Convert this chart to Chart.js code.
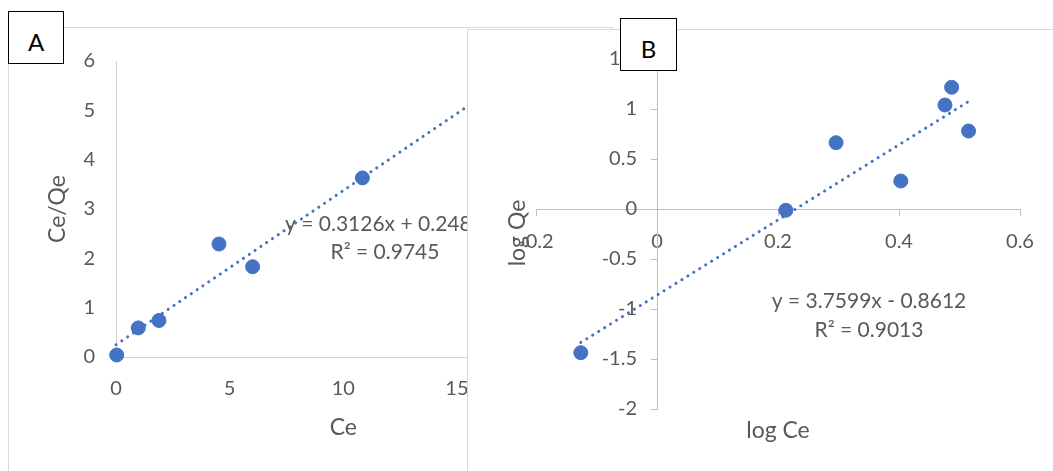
<!DOCTYPE html>
<html>
<head>
<meta charset="utf-8">
<script src="https://cdn.jsdelivr.net/npm/chart.js@4.4.1/dist/chart.umd.min.js"></script>
<style>
  html, body { margin: 0; padding: 0; background: #fff; overflow: hidden; width: 1053px; height: 471px; }
  .panel { position: absolute; box-sizing: border-box; border: 1px solid #d9d9d9; background: #fff; }
  #panelA { left: 8px; top: 27px; width: 605px; height: 470px; }
  #panelB { left: 467px; top: 29px; width: 600px; height: 470px; }
  .panel canvas { position: absolute; left: 0; top: 0; }
  .tag { position: absolute; box-sizing: border-box; border: 1px solid #000; background: #fff;
         font-family: Lato, sans-serif; font-size: 24px; color: #000; text-align: center; }
  #tagA { left: 8px; top: 11px; width: 56px; height: 53px; line-height: 53px; padding-top: 3px; }
  #tagB { left: 620px; top: 18px; width: 57px; height: 53px; line-height: 53px; padding-top: 3px; }
</style>
</head>
<body>
<div class="panel" id="panelA"><canvas id="chartA" width="603" height="443" style="width:603px;height:443px"></canvas></div>
<div class="tag" id="tagA">A</div>
<div class="panel" id="panelB"><canvas id="chartB" width="585" height="441" style="width:585px;height:441px"></canvas></div>
<div class="tag" id="tagB">B</div>

<script>
// Panel A: linear form, Ce/Qe against Ce
const ceA = [0.03, 0.98, 1.89, 4.53, 6.01, 10.84];
const ceQeA = [0.04, 0.59, 0.74, 2.29, 1.83, 3.63];
const fitA = { slope: 0.3126, intercept: 0.248, r2: '0.9745' };
const fitRangeA = [0, 17];
const xTicksA = [0, 5, 10, 15, 20];
const yTicksA = [0, 1, 2, 3, 4, 5, 6];

// Panel B: log form, log Qe against log Ce
const logCeB = [-0.126, 0.213, 0.296, 0.403, 0.476, 0.487, 0.515];
const logQeB = [-1.437, -0.013, 0.663, 0.28, 1.04, 1.217, 0.78];
const fitB = { slope: 3.7599, intercept: -0.8612, r2: '0.9013' };
const xTicksB = [-0.2, 0, 0.2, 0.4, 0.6];
const yTicksB = [-2, -1.5, -1, -0.5, 0, 0.5, 1, 1.5];

const BLUE = '#4472C4';
const TEXT = '#595959';
const FONT = 'Lato';

function fitLine(fit, range) {
  return range.map(x => ({ x: x, y: fit.slope * x + fit.intercept }));
}
function pts(xs, ys) {
  return xs.map((x, i) => ({ x: x, y: ys[i] }));
}
function eqText(fit) {
  const sign = fit.intercept < 0 ? '-' : '+';
  return 'y = ' + fit.slope + 'x ' + sign + ' ' + Math.abs(fit.intercept);
}
function useTicks(list) {
  return s => { s.ticks = list.map(v => ({ value: v })); };
}

const pointStyle = {
  pointRadius: 7, pointBackgroundColor: BLUE, pointBorderColor: BLUE, pointBorderWidth: 1,
  showLine: false, clip: false
};
const trendStyle = {
  showLine: true, pointRadius: 0, borderColor: BLUE, borderWidth: 3,
  borderDash: [0.1, 6.9], borderCapStyle: 'round', clip: false
};
const tickFont = { family: FONT, size: 20 };
const titleFont = { family: FONT, size: 23 };

// Trendline equation for panel A
const notesA = {
  id: 'notesA',
  afterDatasetsDraw(chart) {
    const ctx = chart.ctx;
    ctx.save();
    ctx.fillStyle = TEXT;
    ctx.font = '21px ' + FONT;
    ctx.textBaseline = 'alphabetic';
    ctx.textAlign = 'left';
    ctx.fillText(eqText(fitA), 276, 203);
    ctx.textAlign = 'center';
    ctx.fillText('R\u00B2 = ' + fitA.r2, 376, 231);
    ctx.restore();
  }
};

new Chart(document.getElementById('chartA'), {
  type: 'scatter',
  data: {
    datasets: [
      Object.assign({ label: 'Ce/Qe', data: pts(ceA, ceQeA) }, pointStyle),
      Object.assign({ label: 'Linear', data: fitLine(fitA, fitRangeA) }, trendStyle)
    ]
  },
  options: {
    responsive: false, animation: false, events: [],
    layout: { padding: { left: 0, top: 29, right: 41.4, bottom: 0 } },
    plugins: { legend: { display: false }, tooltip: { enabled: false } },
    scales: {
      x: {
        type: 'linear', position: 'bottom', min: 0, max: 20,
        afterBuildTicks: useTicks(xTicksA),
        afterFit: s => { s.height = 114; },
        grid: { display: false, drawTicks: false },
        border: { display: true, color: '#d0d0d0', width: 1 },
        ticks: { color: TEXT, font: tickFont, padding: 20, maxRotation: 0, autoSkip: false },
        title: { display: true, text: 'Ce', color: TEXT, font: titleFont, padding: { top: 0, bottom: 29.2 } }
      },
      y: {
        type: 'linear', position: 'left', min: 0, max: 6,
        afterBuildTicks: useTicks(yTicksA),
        afterFit: s => { s.width = 107; },
        grid: { display: false, drawTicks: false },
        border: { display: true, color: '#d0d0d0', width: 1 },
        ticks: { color: TEXT, font: tickFont, padding: 21, autoSkip: false },
        title: { display: true, text: 'Ce/Qe', color: TEXT, font: titleFont, padding: { top: 35.2, bottom: 0 } }
      }
    }
  },
  plugins: [notesA]
});

// Axis titles and trendline equation for panel B
const notesB = {
  id: 'notesB',
  afterDatasetsDraw(chart) {
    const ctx = chart.ctx;
    ctx.save();
    ctx.fillStyle = TEXT;
    ctx.textBaseline = 'alphabetic';
    ctx.textAlign = 'center';
    ctx.font = '21px ' + FONT;
    ctx.fillText(eqText(fitB), 401, 278);
    ctx.fillText('R\u00B2 = ' + fitB.r2, 401, 307);
    ctx.font = '23px ' + FONT;
    ctx.fillText('log Ce', 310, 408);
    ctx.translate(57, 203);
    ctx.rotate(-Math.PI / 2);
    ctx.fillText('log Qe', 0, 0);
    ctx.restore();
  }
};

// The y axis crosses at x = 0; keep its labels clear of the tick marks
const yLabelGap = {
  id: 'yLabelGap',
  beforeDraw(chart) {
    const s = chart.scales.y;
    if (!s || !s.getLabelItems) return;
    const shift = s.options.grid.tickLength + s.options.ticks.padding;
    s.getLabelItems().forEach(it => {
      if (it.options && it.options.translation && !it._gap) {
        it.options.translation[0] -= shift;
        it._gap = true;
      }
    });
  }
};

const axisB = {
  grid: { display: true, drawOnChartArea: false, drawTicks: true, tickLength: 6, color: '#bfbfbf', lineWidth: 1 },
  border: { display: true, color: '#bfbfbf', width: 1 }
};

new Chart(document.getElementById('chartB'), {
  type: 'scatter',
  data: {
    datasets: [
      Object.assign({ label: 'log Qe', data: pts(logCeB, logQeB) }, pointStyle),
      Object.assign({ label: 'Linear', data: fitLine(fitB, [Math.min(...logCeB), Math.max(...logCeB)]) }, trendStyle)
    ]
  },
  options: {
    responsive: false, animation: false, events: [],
    layout: { padding: { left: 68, top: 29, right: 33, bottom: 62 } },
    plugins: { legend: { display: false }, tooltip: { enabled: false } },
    scales: {
      x: Object.assign({
        type: 'linear', position: { y: 0 }, min: -0.2, max: 0.6,
        afterBuildTicks: useTicks(xTicksB),
        ticks: { color: TEXT, font: tickFont, padding: 15, maxRotation: 0, autoSkip: false, callback: v => String(v) }
      }, axisB),
      y: Object.assign({
        type: 'linear', position: { x: 0 }, min: -2, max: 1.5,
        afterBuildTicks: useTicks(yTicksB),
        ticks: { color: TEXT, font: tickFont, padding: 14, autoSkip: false, callback: v => String(v) }
      }, axisB)
    }
  },
  plugins: [notesB, yLabelGap]
});
</script>
</body>
</html>
